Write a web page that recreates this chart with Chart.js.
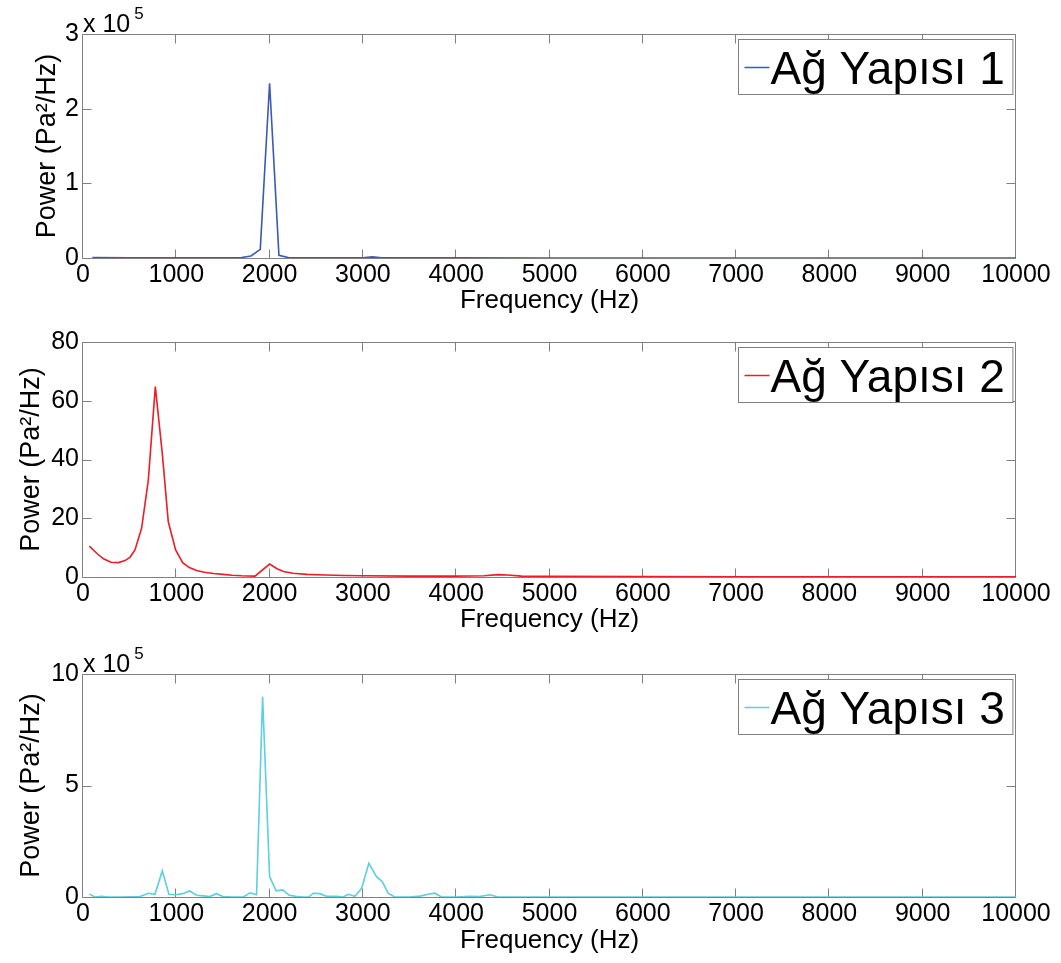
<!DOCTYPE html>
<html><head><meta charset="utf-8">
<script src="https://cdn.jsdelivr.net/npm/chart.js@4"></script>
<style>
html,body{margin:0;padding:0;background:#fff;}
#wrap{position:relative;width:1061px;height:963px;overflow:hidden;}
canvas{position:absolute;left:0;}
</style></head><body>
<div id="wrap">
<canvas id="c1" width="1061" height="321" style="top:0;width:1061px;height:321px"></canvas>
<canvas id="c2" width="1061" height="321" style="top:321px;width:1061px;height:321px"></canvas>
<canvas id="c3" width="1061" height="321" style="top:642px;width:1061px;height:321px"></canvas>
</div>
<script>
// ---- data ----
const freq1 = [100, 500, 1000, 1500, 1700, 1800, 1900, 2000, 2100, 2200, 2500, 3000, 3100, 3200, 3500, 4000, 5000, 6000, 7000, 8000, 9000, 10000];
const power1 = [500, 300, 200, 300, 600, 2700, 11600, 234000, 3600, 500, 300, 300, 1500, 300, 200, 200, 100, 100, 100, 100, 100, 100];

const freq2 = [68, 150, 220, 300, 380, 450, 503, 557, 628, 700, 775, 850, 914, 993, 1068, 1140, 1218, 1300, 1400, 1500, 1600, 1700, 1843, 2000, 2080, 2150, 2250, 2400, 2600, 2800, 3000, 3500, 4000, 4300, 4450, 4550, 4700, 5000, 6000, 7000, 8000, 9000, 10000];
const power2 = [10.5, 8.0, 6.2, 5.0, 4.9, 5.6, 6.7, 9.2, 16.6, 33, 64.8, 42, 18.8, 9.2, 4.9, 3.2, 2.2, 1.6, 1.2, 0.9, 0.6, 0.4, 0.3, 4.4, 2.8, 1.9, 1.3, 0.9, 0.7, 0.5, 0.4, 0.3, 0.3, 0.4, 0.8, 0.7, 0.3, 0.2, 0.15, 0.1, 0.1, 0.1, 0.1];

const freq3 = [68, 128, 200, 270, 400, 610, 700, 771, 850, 921, 993, 1068, 1143, 1218, 1290, 1360, 1430, 1500, 1600, 1720, 1790, 1860, 1925, 2000, 2070, 2140, 2210, 2280, 2360, 2420, 2468, 2540, 2610, 2718, 2790, 2843, 2914, 2986, 3064, 3146, 3207, 3271, 3343, 3500, 3611, 3700, 3772, 3843, 4000, 4146, 4250, 4361, 4450, 5000, 6000, 7000, 8000, 9000, 10000];
const power3 = [13000, 0, 3000, 0, 0, 2000, 17000, 12000, 117000, 12000, 10000, 15000, 27000, 8000, 5000, 2000, 15000, 2000, 0, 0, 19000, 10000, 898000, 91000, 28000, 32000, 8000, 3000, 0, 0, 17000, 15000, 3000, 3000, 0, 12000, 3000, 39000, 151000, 91000, 69000, 17000, 0, 0, 4000, 12000, 17000, 0, 0, 3000, 2000, 10000, 0, 0, 0, 0, 0, 0, 0];

const seriesLabels = ['Ağ Yapısı 1', 'Ağ Yapısı 2', 'Ağ Yapısı 3'];
const xTicks = [0, 1000, 2000, 3000, 4000, 5000, 6000, 7000, 8000, 9000, 10000];
const yTicks1 = [0, 1, 2, 3];      // x 10^5
const yTicks2 = [0, 20, 40, 60, 80];
const yTicks3 = [0, 5, 10];        // x 10^5
const xTitle = 'Frequency (Hz)';
const yTitle = 'Power (Pa²/Hz)';

const FONT = "'Liberation Sans', Arial, sans-serif";

const matlabPlugin = {
  id: 'matlabBox',
  beforeDatasetsDraw(chart, args, opts) {
    const {ctx, chartArea: a} = chart;
    const xs = chart.scales.x, ys = chart.scales.y;
    ctx.save();
    ctx.strokeStyle = '#808080';
    ctx.lineWidth = 1;
    ctx.beginPath();
    const L = Math.round(a.left) - 0.5, R = Math.round(a.right) - 0.5;
    const T = Math.round(a.top) + 0.5, B = Math.round(a.bottom) + 0.5;
    ctx.rect(L, T, R - L, B - T);
    const tl = 9;
    xs.ticks.forEach(t => {
      const px = Math.round(xs.getPixelForValue(t.value)) - 0.5;
      ctx.moveTo(px, B); ctx.lineTo(px, B - tl);
      ctx.moveTo(px, T); ctx.lineTo(px, T + tl);
    });
    ys.ticks.forEach(t => {
      const py = Math.round(ys.getPixelForValue(t.value)) + 0.5;
      ctx.moveTo(L, py); ctx.lineTo(L + tl, py);
      ctx.moveTo(R, py); ctx.lineTo(R - tl, py);
    });
    ctx.stroke();
    ctx.restore();
  },
  afterDraw(chart, args, opts) {
    const {ctx, chartArea: a} = chart;
    ctx.save();
    // legend
    ctx.font = '46px ' + FONT;
    const tw = ctx.measureText(opts.label).width;
    const bw = tw + 40, bh = 55;
    const bx = Math.round(a.right - 4 - bw) + 0.5, by = Math.round(a.top + 5) + 0.5;
    ctx.fillStyle = '#fff';
    ctx.fillRect(bx, by, bw, bh);
    ctx.strokeStyle = '#808080';
    ctx.lineWidth = 1;
    ctx.strokeRect(bx, by, bw, bh);
    ctx.strokeStyle = opts.color;
    ctx.lineWidth = 1.5;
    ctx.beginPath();
    ctx.moveTo(bx + 6, by + 28); ctx.lineTo(bx + 31, by + 28);
    ctx.stroke();
    ctx.fillStyle = '#000';
    ctx.textBaseline = 'alphabetic';
    ctx.textAlign = 'left';
    ctx.fillText(opts.label, bx + 32, by + 44);
    // exponent
    if (opts.exp) {
      ctx.font = '25px ' + FONT;
      ctx.fillText('x 10', a.left, a.top - 2);
      const w = ctx.measureText('x 10').width;
      ctx.font = '17px ' + FONT;
      ctx.fillText(opts.exp, a.left + w + 4, a.top - 15);
    }
    ctx.restore();
  }
};

function makeChart(id, freq, power, color, label, yTicks, factor, exp, geo) {
  const pts = freq.map((f, i) => ({x: f, y: power[i]}));
  return new Chart(document.getElementById(id), {
    type: 'line',
    data: { datasets: [{ label: label, data: pts, borderColor: color, borderWidth: 1.6,
      pointRadius: 0, tension: 0, fill: false }] },
    options: {
      responsive: false, animation: false, devicePixelRatio: 1,
      layout: { padding: { top: geo.top, right: 45, bottom: 0, left: 0 } },
      plugins: { legend: { display: false }, tooltip: { enabled: false },
        matlabBox: { label: label, color: color, exp: exp } },
      scales: {
        x: {
          type: 'linear', min: xTicks[0], max: xTicks[xTicks.length - 1],
          afterBuildTicks: s => { s.ticks = xTicks.map(v => ({value: v})); },
          afterFit: s => { s.height = geo.xh; },
          grid: { display: false, drawTicks: false }, border: { display: false },
          ticks: { padding: 2, color: '#000', maxRotation: 0, autoSkip: false,
            font: { family: FONT, size: 25 }, callback: v => String(v) },
          title: { display: true, text: xTitle, color: '#000',
            font: { family: FONT, size: 26 }, padding: { top: 0, bottom: geo.xtb } }
        },
        y: {
          type: 'linear', min: yTicks[0] * factor, max: yTicks[yTicks.length - 1] * factor,
          afterBuildTicks: s => { s.ticks = yTicks.map(v => ({value: v * factor})); },
          afterFit: s => { s.width = 83; },
          grid: { display: false, drawTicks: false }, border: { display: false },
          ticks: { padding: 4, color: '#000', autoSkip: false,
            font: { family: FONT, size: 25 }, callback: v => String(Math.round(v / factor)) },
          title: { display: true, text: yTitle, color: '#000',
            font: { family: FONT, size: 27 }, padding: { top: geo.ytp, bottom: 0 } }
        }
      }
    },
    plugins: [matlabPlugin]
  });
}

makeChart('c1', freq1, power1, '#3a5bb5', seriesLabels[0], yTicks1, 1e5, '5',
  { top: 34, xh: 63, xtb: 5, ytp: 31 });
makeChart('c2', freq2, power2, '#ee1c25', seriesLabels[1], yTicks2, 1, null,
  { top: 21, xh: 65, xtb: 7, ytp: 15 });
makeChart('c3', freq3, power3, '#5ccfe0', seriesLabels[2], yTicks3, 1e5, '5',
  { top: 32, xh: 66, xtb: 6.5, ytp: 15 });
</script>
</body></html>
